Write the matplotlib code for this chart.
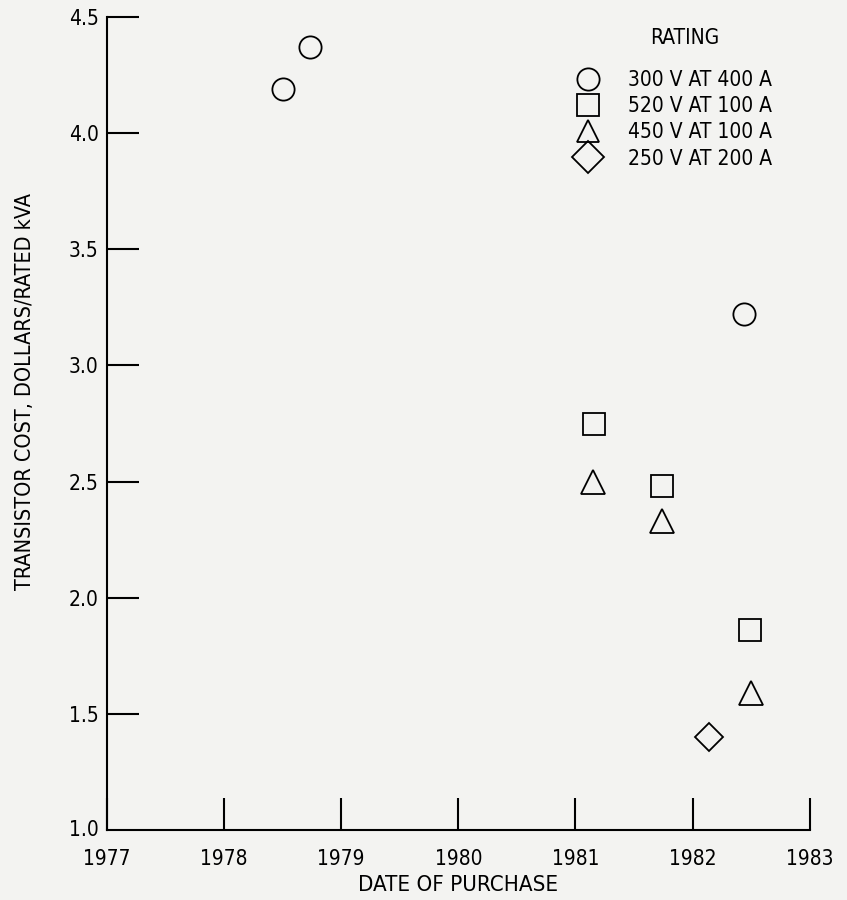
import matplotlib.pyplot as plt

# data
ratings = ['300 V AT 400 A', '520 V AT 100 A', '450 V AT 100 A', '250 V AT 200 A']
markers = ['o', 's', '^', 'D']
msizes = [16, 16, 17, 14]

circle_x = [1978.50, 1978.73, 1982.44]
circle_y = [4.19, 4.37, 3.22]
square_x = [1981.16, 1981.74, 1982.49]
square_y = [2.75, 2.48, 1.86]
tri_x = [1981.15, 1981.74, 1982.50]
tri_y = [2.50, 2.33, 1.59]
diam_x = [1982.14]
diam_y = [1.40]

xs = [circle_x, square_x, tri_x, diam_x]
ys = [circle_y, square_y, tri_y, diam_y]

years = [1977, 1978, 1979, 1980, 1981, 1982, 1983]
yticks = [1.0, 1.5, 2.0, 2.5, 3.0, 3.5, 4.0, 4.5]
ytick_labels = ['1.0', '1.5', '2.0', '2.5', '3.0', '3.5', '4.0', '4.5']

plt.rcParams['font.family'] = ['DejaVu Sans']
plt.rcParams['font.stretch'] = 'condensed'
bg = '#f3f3f1'

fig = plt.figure(figsize=(8.47, 9), dpi=100, facecolor=bg)
ax = fig.add_axes([0.1263, 0.0778, 0.8297, 0.9032], facecolor=bg)

for x, y, m, s, lab in zip(xs, ys, markers, msizes, ratings):
    ax.plot(x, y, linestyle='none', marker=m, markersize=s, markerfacecolor='none',
            markeredgecolor='black', markeredgewidth=1.3, label=lab)

ax.set_xlim(1977, 1983)
ax.set_ylim(1.0, 4.5)
ax.spines['top'].set_visible(False)
ax.spines['right'].set_visible(False)
for sp in ['left', 'bottom']:
    ax.spines[sp].set_linewidth(1.5)

ax.set_xticks(years)
ax.set_xticklabels([str(y) for y in years], fontsize=15)
ax.set_yticks(yticks[1:])
ax.set_yticklabels(ytick_labels[1:], fontsize=15)
ax.tick_params(direction='in', length=23, width=1.5, pad=6)
ax.tick_params(axis='x', pad=14)
ax.text(-0.012, 0.0, '1.0', transform=ax.transAxes, ha='right', va='center', fontsize=15)

ax.set_xlabel('DATE OF PURCHASE', fontsize=16, labelpad=4)
ax.set_ylabel('TRANSISTOR COST, DOLLARS/RATED kVA', fontsize=15.5)
ax.yaxis.set_label_coords(-0.102, 0.539)

# legend, title placed separately
ax.text(0.822, 0.974, 'RATING', transform=ax.transAxes, ha='center', va='center', fontsize=15)
leg = ax.legend(loc='upper left', bbox_to_anchor=(0.638, 0.958), frameon=False,
                fontsize=15, handletextpad=1.3, labelspacing=0.3, handlelength=1.3)
for h in leg.legend_handles:
    h.set_markersize(16)

fig.savefig('out.png', dpi=100, facecolor=bg)
